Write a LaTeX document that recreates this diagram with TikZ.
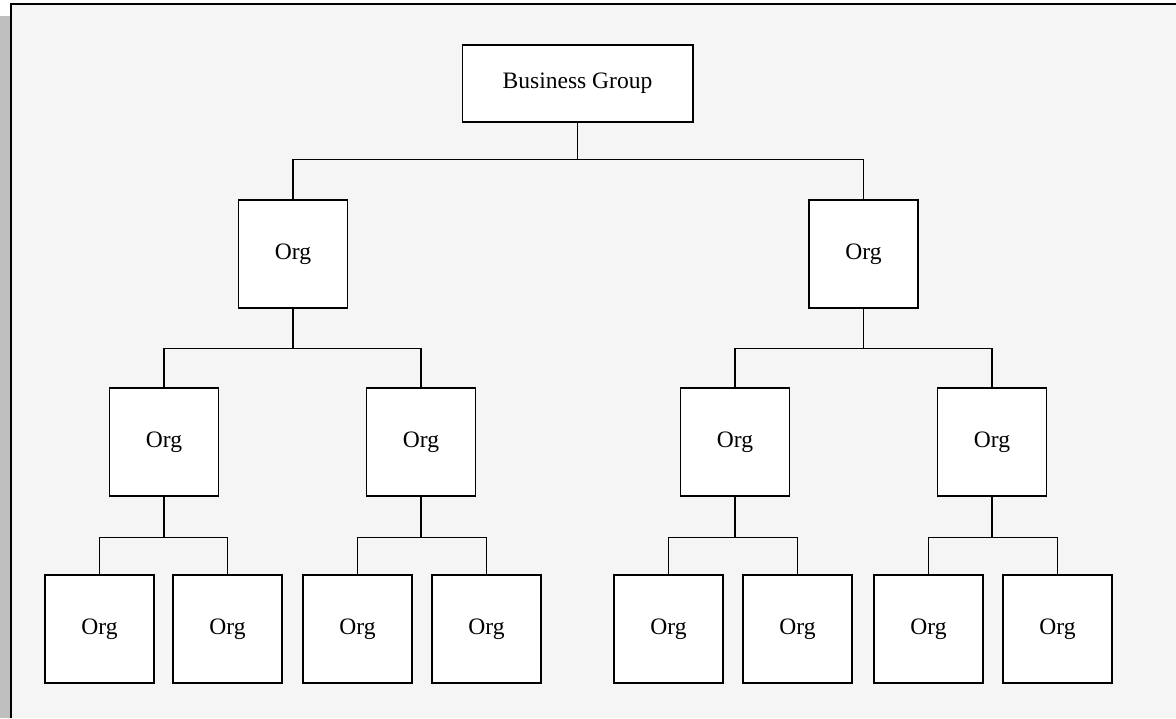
\documentclass[tikz,border=0pt]{standalone}
\usepackage{fontspec}
\setmainfont{Liberation Serif}
\usepackage{tikz}

\begin{document}
\begin{tikzpicture}[x=0.02cm, y=-0.02cm,
	org/.style={draw, fill=white, line width=0.6pt, minimum width=2.18cm, minimum height=2.16cm, inner sep=0pt, font=\fontsize{13.4}{16}\selectfont},
	link/.style={line width=0.6pt}]
	\useasboundingbox (0,0) rectangle (1176,718);
	
	% Frame
	\fill[white] (0,0) rectangle (1176,718);
	\fill[gray!50] (0,16) rectangle (11,718);
	\fill[black!4] (11,4) rectangle (1176,718);
	\draw[line width=1.2pt] (11,718) -- (11,4) -- (1176,4);
	
	% Boxes
	\node[org, minimum width=4.62cm, minimum height=1.54cm] (bg) at (577.5,83.5) {Business Group};
	\node[org] (a) at (293,254) {Org};
	\node[org] (b) at (863.5,254) {Org};
	\node[org] (aa) at (164,442) {Org};
	\node[org] (ab) at (421,442) {Org};
	\node[org] (ba) at (735,442) {Org};
	\node[org] (bb) at (992,442) {Org};
	\node[org] (aa1) at (99.5,629) {Org};
	\node[org] (aa2) at (227.5,629) {Org};
	\node[org] (ab1) at (357.5,629) {Org};
	\node[org] (ab2) at (486.5,629) {Org};
	\node[org] (ba1) at (668.5,629) {Org};
	\node[org] (ba2) at (797.5,629) {Org};
	\node[org] (bb1) at (928.5,629) {Org};
	\node[org] (bb2) at (1057.5,629) {Org};
	
	% Links
	\draw[link] (bg.south) -- ++(0,37) -| (a.north);
	\draw[link] (bg.south) -- ++(0,37) -| (b.north);
	\foreach \p/\l/\r in {a/aa/ab, b/ba/bb} {
		\draw[link] (\p.south) -- ++(0,40) -| (\l.north);
		\draw[link] (\p.south) -- ++(0,40) -| (\r.north);
	}
	\foreach \p in {aa, ab, ba, bb} {
		\draw[link] (\p.south) -- ++(0,41) -| (\p1.north);
		\draw[link] (\p.south) -- ++(0,41) -| (\p2.north);
	}
\end{tikzpicture}
\end{document}
